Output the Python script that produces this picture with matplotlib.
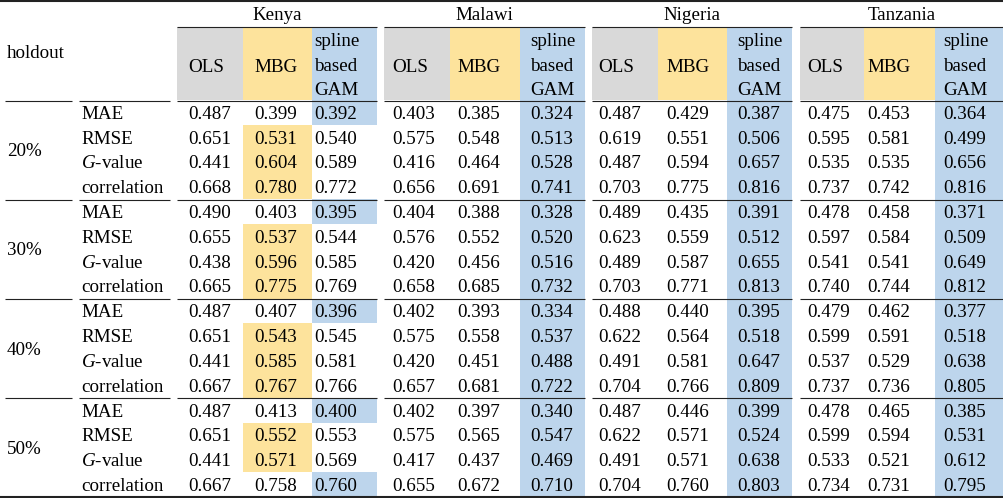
import matplotlib
matplotlib.use("Agg")
import matplotlib.pyplot as plt
import numpy as np

countries = ["Kenya", "Malawi", "Nigeria", "Tanzania"]
models = ["OLS", "MBG", "spline based GAM"]
holdouts = ["20%", "30%", "40%", "50%"]
metrics = ["MAE", "RMSE", "$G$-value", "correlation"]
lower_is_better = [True, True, False, False]

# rows: holdout x metric, columns: OLS, MBG, spline GAM
kenya = [
    [0.487, 0.399, 0.392], [0.651, 0.531, 0.540], [0.441, 0.604, 0.589], [0.668, 0.780, 0.772],
    [0.490, 0.403, 0.395], [0.655, 0.537, 0.544], [0.438, 0.596, 0.585], [0.665, 0.775, 0.769],
    [0.487, 0.407, 0.396], [0.651, 0.543, 0.545], [0.441, 0.585, 0.581], [0.667, 0.767, 0.766],
    [0.487, 0.413, 0.400], [0.651, 0.552, 0.553], [0.441, 0.571, 0.569], [0.667, 0.758, 0.760],
]
malawi = [
    [0.403, 0.385, 0.324], [0.575, 0.548, 0.513], [0.416, 0.464, 0.528], [0.656, 0.691, 0.741],
    [0.404, 0.388, 0.328], [0.576, 0.552, 0.520], [0.420, 0.456, 0.516], [0.658, 0.685, 0.732],
    [0.402, 0.393, 0.334], [0.575, 0.558, 0.537], [0.420, 0.451, 0.488], [0.657, 0.681, 0.722],
    [0.402, 0.397, 0.340], [0.575, 0.565, 0.547], [0.417, 0.437, 0.469], [0.655, 0.672, 0.710],
]
nigeria = [
    [0.487, 0.429, 0.387], [0.619, 0.551, 0.506], [0.487, 0.594, 0.657], [0.703, 0.775, 0.816],
    [0.489, 0.435, 0.391], [0.623, 0.559, 0.512], [0.489, 0.587, 0.655], [0.703, 0.771, 0.813],
    [0.488, 0.440, 0.395], [0.622, 0.564, 0.518], [0.491, 0.581, 0.647], [0.704, 0.766, 0.809],
    [0.487, 0.446, 0.399], [0.622, 0.571, 0.524], [0.491, 0.571, 0.638], [0.704, 0.760, 0.803],
]
tanzania = [
    [0.475, 0.453, 0.364], [0.595, 0.581, 0.499], [0.535, 0.535, 0.656], [0.737, 0.742, 0.816],
    [0.478, 0.458, 0.371], [0.597, 0.584, 0.509], [0.541, 0.541, 0.649], [0.740, 0.744, 0.812],
    [0.479, 0.462, 0.377], [0.599, 0.591, 0.518], [0.537, 0.529, 0.638], [0.737, 0.736, 0.805],
    [0.478, 0.465, 0.385], [0.599, 0.594, 0.531], [0.533, 0.521, 0.612], [0.734, 0.731, 0.795],
]
tables = [kenya, malawi, nigeria, tanzania]

# --- layout (pixel coordinates) -------------------------------------------
W, H = 1004, 498
model_colors = ["#d9d9d9", "#fde39c", "#bdd5ec"]
cell_edges = [[177, 243, 312, 377], [384, 450, 520, 585],
              [592, 658, 727, 792], [800, 864, 935, 1004]]
text_x = [[188, 254, 314], [392, 457, 530], [598, 666, 737], [807, 867, 943]]
rule_spans = [(5, 72), (79, 170)] + [(e[0], e[-1]) for e in cell_edges]
body_top, body_bot = 100, 497
row_h = (body_bot - body_top) / 16
head_top = 27
digit_half = 6.4

plt.rcParams["font.family"] = "Liberation Serif"
plt.rcParams["mathtext.fontset"] = "custom"
plt.rcParams["mathtext.rm"] = "Liberation Serif"
plt.rcParams["mathtext.it"] = "Liberation Serif:italic"
fs = 13.7

fig = plt.figure(figsize=(W / 100, H / 100), dpi=100)
ax = fig.add_axes([0, 0, 1, 1])
ax.set_xlim(0, W)
ax.set_ylim(H, 0)
ax.axis("off")


def rect(x0, x1, y0, y1, color):
    ax.add_patch(plt.Rectangle((x0, y0), x1 - x0, y1 - y0, color=color, lw=0, zorder=1))


def hline(x0, x1, y, lw=0.8):
    ax.plot([x0, x1], [y, y], color="#222222", lw=lw, solid_capstyle="butt", zorder=3)


# header
ax.text(7, 58, "holdout", fontsize=fs, ha="left", va="baseline")
for c, country in enumerate(countries):
    e = cell_edges[c]
    ax.text((e[0] + e[-1]) / 2, 20, country, fontsize=fs, ha="center", va="baseline")
    hline(e[0], e[-1], 26.5)
    for m in range(3):
        rect(e[m], e[m + 1], head_top, body_top, model_colors[m])
    ax.text(text_x[c][0], 72, models[0], fontsize=fs, ha="left", va="baseline", zorder=4)
    ax.text(text_x[c][1], 72, models[1], fontsize=fs, ha="left", va="baseline", zorder=4)
    for k, word in enumerate(models[2].split(" ")):
        ax.text(text_x[c][2], 46 + 24.5 * k, word, fontsize=fs, ha="left", va="baseline", zorder=4)

# body
for c, table in enumerate(tables):
    vals = np.array(table)
    e = cell_edges[c]
    for r in range(16):
        y0 = body_top + r * row_h
        lower = lower_is_better[r % 4]
        best = int(np.argmin(vals[r]) if lower else np.argmax(vals[r]))
        rect(e[best], e[best + 1], y0, y0 + row_h, model_colors[best])
        for m in range(3):
            ax.text(text_x[c][m], y0 + row_h / 2 + digit_half, f"{vals[r, m]:.3f}",
                    fontsize=fs, ha="left", va="baseline", zorder=4)

for b, hold in enumerate(holdouts):
    yb = body_top + 4 * b * row_h
    ax.text(7, yb + 2 * row_h + digit_half, hold, fontsize=fs, ha="left", va="baseline")
    for k, met in enumerate(metrics):
        ax.text(81, yb + (k + 0.5) * row_h + digit_half, met, fontsize=fs, ha="left", va="baseline")
    for x0, x1 in rule_spans:
        hline(x0, x1, yb + 0.5)

hline(0, W, 1.2, lw=1.5)
hline(0, W, body_bot, lw=1.5)

fig.savefig("out.png", dpi=100)
